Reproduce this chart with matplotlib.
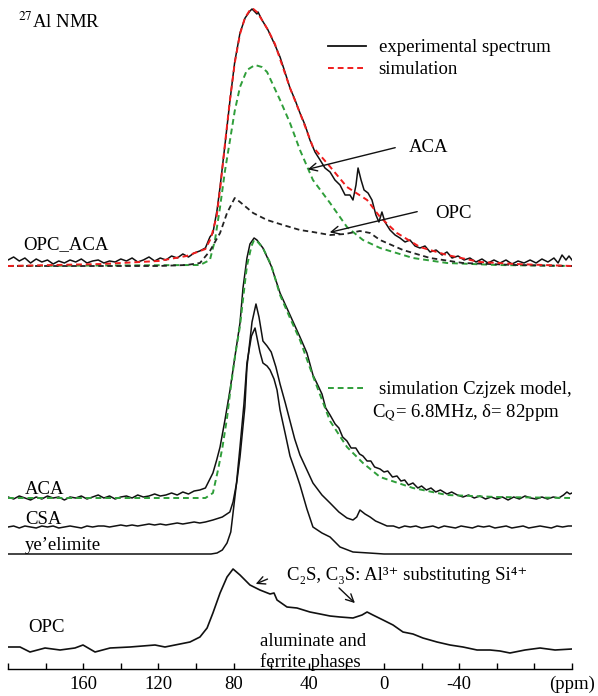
import matplotlib
matplotlib.use('Agg')
import matplotlib.pyplot as plt
from matplotlib.lines import Line2D

plt.rcParams['font.family'] = ['Liberation Serif', 'DejaVu Serif']
plt.rcParams['mathtext.fontset'] = 'stix'

# --- data (ppm, intensity above each trace's baseline) ---
left_ppm = [200, 197, 194, 191, 188, 185, 182, 179, 176, 173, 170, 167, 164, 161, 158, 155, 152, 149,
            146, 143, 140, 137, 134, 131, 128, 125, 122, 119, 116, 113, 110, 107, 104, 101, 98, 95]

# OPC_ACA blend
mix_exp_ppm = left_ppm + [92.6, 91, 88.8, 87.2, 84.6, 81.9, 79.4, 76.6, 73.9, 71.3,
                          70.2, 68.6, 67.6, 67, 64.9, 61.7, 58, 55.3, 52.7, 50,
                          47.3, 44.7, 42, 39.4, 36.7, 34, 31.4, 28.7, 26.1, 23.4,
                          20.7, 18.1, 16.5, 14.9, 13.8, 12.2, 10.6, 8.5, 6.4, 4.3,
                          2.7, 1.1, -0.5, -3.2, -5.9, -8.5, -11.2, -13.8, -16.5, -19.1,
                          -21.8, -24.5, -27.7, -30.9, -33.5, -36.2, -39.4, -42.6, -45.7, -48.9,
                          -52.1, -55.3, -58.5, -61.7, -64.9, -68.1, -71.3, -74.5, -77.7, -80.9,
                          -84, -87.2, -90.4, -92.6, -94.7, -96.8, -98.4, -100]
mix_exp_int = [6, 9, 5, 8, 3, 7, 4, 6, 2, 5, 3, 6, 4, 7, 3, 5, 6, 3, 5, 4, 7, 5, 8, 4, 6, 9, 5, 8, 6, 10,
               8, 12, 9, 13, 15, 18,
               29, 33, 56, 79, 121, 166, 204, 233, 248, 255,
               257, 254, 252, 254, 246, 236, 221, 209, 194, 178,
               166, 153, 141, 126, 114, 106, 98, 94, 86, 81,
               71, 71, 66, 81, 98, 86, 76, 73, 66, 51,
               44, 54, 44, 36, 31, 28, 24, 26, 20, 18,
               20, 14, 16, 11, 14, 8, 10, 6, 8, 4,
               7, 3, 6, 3, 6, 2, 5, 3, 6, 3,
               7, 4, 8, 3, 11, 6, 10, 6]

mix_sim_ppm = [200, 150, 120, 105, 95, 92, 89, 87, 84.6, 82, 79.4, 76.6, 74, 71.3, 69.5, 67.6, 64.9,
               61.7, 58, 55.3, 50, 44.7, 37.8, 29, 19.7, 9, 2.1, -6.9, -19.1, -33.5, -51, -70, -100]
mix_sim_int = [0, 2, 5, 10, 17, 28, 50, 80, 122, 165, 203, 232, 248, 256, 257, 254, 246,
               236, 222, 207, 178, 153, 119, 100, 79, 66, 49, 33, 19, 11, 4, 2, 0]

aca_part_ppm = [200, 97.9, 92.6, 89.9, 87.2, 84.6, 81.9, 79.4, 76.6, 72.9, 68.6, 65, 62.2, 55.3, 50,
                44.7, 37.8, 28.7, 19.7, 11.2, 2.1, -15.4, -33.5, -60, -100]
aca_part_int = [0, 1, 6, 26, 59, 95, 126, 155, 179, 196, 201, 199, 194, 166, 143,
                116, 86, 63, 39, 26, 18, 8, 3, 1, 0]

opc_part_ppm = [200, 120, 105, 97.9, 92.6, 87.2, 83.5, 79.4, 76.6, 69.6, 62.2, 53.7, 44.7, 37.8, 28.7,
                20.7, 12.8, 7.4, 2.1, -10.1, -24.5, -42, -70, -100]
opc_part_int = [0, 0, 1, 3, 15, 33, 53, 68, 64, 53, 46, 41, 36, 34, 31,
                32, 35, 33, 26, 16, 8, 3, 1, 0]

# ACA
aca_ppm = left_ppm + [91, 89, 87.2, 84.6, 81.9, 79.4, 76.6, 75, 72.9, 71.3,
                      69.1, 67.6, 64.4, 60, 55.3, 50, 44.7, 41, 37.8, 35.5,
                      33, 31, 28.7, 26, 24, 22, 19.7, 17.5, 15, 13,
                      11.2, 9, 7, 5, 2.1, 0, -2, -4.5, -6.9, -9,
                      -11, -13, -15.4, -18, -20, -22.5, -25, -27.5, -30, -33.5,
                      -36, -39, -42, -45, -48, -51, -54, -57, -60, -63,
                      -66, -69, -72, -75, -78, -81, -84, -87, -90, -93,
                      -95.5, -97.3, -98.8, -100]
aca_int = [1, -1, 2, 0, -2, 1, -1, 2, 0, 1, -2, 1, 0, 2, -1, 1, 3, 0, 2, -1,
           1, 2, 0, 3, 1, 2, 4, 2, 3, 5, 3, 6, 4, 7, 8, 10,
           25, 38, 51, 78, 108, 140, 175, 210, 240, 254,
           260, 258, 250, 232, 205, 183, 161, 145, 123, 114,
           104, 90, 83, 74, 70, 61, 57, 50, 50, 44,
           42, 37, 37, 31, 29, 26, 27, 21, 22, 17,
           18, 13, 15, 10, 12, 8, 10, 6, 8, 4,
           6, 3, 1, 3, 0, 2, -1, 1, -1, 1,
           -2, 1, -1, 2, 0, -1, 1, -1, 1, 0,
           3, 6, 4, 5]

czjzek_ppm = [200, 95, 91, 88.3, 86, 83.5, 81.9, 79.4, 76.6, 74, 72.9, 70.5, 69.1, 67.6, 64.4,
              60, 55.3, 50, 44.7, 37.8, 28.7, 19.7, 11.2, 2.1, -15.4, -33.5, -60, -100]
czjzek_int = [0, 0, 5, 28, 50, 80, 105, 140, 172, 215, 232, 252, 258, 257, 250,
              233, 203, 180, 158, 122, 77, 51, 35, 21, 10, 3, 1, 0]

# CSA
csa_ppm = left_ppm + [91, 86, 82, 80.3, 78.3, 76.6, 74, 72.9, 70.2, 68.1,
                      66.5, 64.4, 62.2, 60, 57.5, 55.3, 52.5, 50, 47.5, 44.7,
                      41, 37.8, 33, 28.7, 24, 19.7, 16.5, 14.5, 12.8, 10.1,
                      7.4, 4.5, 2, -1.6, -5, -8, -11, -14, -17, -20,
                      -23, -26, -29, -32, -35, -38, -41, -44, -47, -50, -53, -56, -59, -62,
                      -65, -68, -71, -74, -77, -80, -83, -86, -89, -92, -95, -98, -100]
csa_int = [0, 1, -1, 1, 0, -1, 1, 0, 1, -1, 0, 1, 0, -1, 1, 0, 1, 1, 0, 1,
           2, 1, 2, 1, 2, 3, 2, 3, 2, 3, 4, 3, 4, 5, 4, 5,
           7, 10, 15, 25, 45, 70, 120, 160, 205, 223,
           210, 186, 181, 175, 160, 143, 124, 106, 88, 72,
           57, 44, 32, 24, 15, 9, 7, 10, 17, 13,
           10, 6, 4, 1, 1, -1, 1, 0, 1, -1,
           0, 1, -1, 1, 0, -1, 1, 0, -1, 1, 0, 1, -1, 0,
           1, -1, 0, 1, -1, 0, 1, 0, -1, 1, 0, 1, 1]

# ye'elimite
ye_ppm = [200, 150, 120, 100, 92, 88.8, 86, 83.5, 81.5, 80.3, 78.5, 76.6, 74.5, 72.9, 70.5,
          68.6, 66, 64.4, 62.2, 60.6, 58.5, 56.9, 55.3, 52.5, 50, 47, 44.7, 41, 37.8, 33,
          28.7, 23.4, 16.5, 8, 0, -30, -60, -100]
ye_int = [0, 0, 0, 0, 0, 1, 4, 11, 22, 41, 70, 107, 150, 191, 218,
          226, 202, 191, 188, 184, 175, 164, 144, 120, 98, 82, 69, 45, 27, 21,
          17, 7, 2, 1, 0, 0, 0, 0]

# OPC
opc_ppm = [200, 193.6, 188.3, 180.3, 172.3, 164.4, 160.1, 153.7, 145.7, 135.1,
           121.8, 116.5, 108.5, 103.2, 97.9, 94.1, 91, 87.2, 83.5, 80.3,
           76.6, 71.3, 66, 60.6, 58.5, 56.9, 51.6, 46.3, 39.4, 34,
           28.7, 23.4, 16.5, 11.7, 9, 5.9, 0.5, -4.8, -10.1, -15.4,
           -20.7, -28.2, -35.1, -42, -49.5, -56.4, -61.7, -67, -75, -83, -91, -100]
opc_int = [1, 1, -4, 0, -2, 0, 3, -4, 0, 1,
           3, 1, 4, 6, 11, 20, 35, 55, 71, 79,
           73, 63, 58, 54, 55, 48, 41, 40, 36, 34,
           32, 31, 30, 33, 36, 33, 28, 23, 16, 14,
           10, 6, 3, 1, -2, -2, -3, -5, -2, 0, -2, -1]

# baselines of the stacked traces
base = {'OPC_ACA': 404, 'ACA': 172, 'CSA': 143, 'ye': 116, 'OPC': 22}

RED = '#f01d1d'
GREEN = '#2f9e3a'
DASH = (0, (3, 2))

fig = plt.figure(figsize=(5.98, 6.96), dpi=100)
ax = fig.add_axes([8 / 598, 27 / 696, 564 / 598, 669 / 696])
ax.set_xlim(200, -100)
ax.set_ylim(1, 670)


def shift(vals, key):
    return [base[key] + v for v in vals]


ax.plot(mix_exp_ppm, shift(mix_exp_int, 'OPC_ACA'), color='#111111', lw=1.1)
ax.plot(aca_part_ppm, shift(aca_part_int, 'OPC_ACA'), color=GREEN, lw=1.4, ls=DASH)
ax.plot(opc_part_ppm, shift(opc_part_int, 'OPC_ACA'), color='#222222', lw=1.3, ls=DASH)
ax.plot(mix_sim_ppm, shift(mix_sim_int, 'OPC_ACA'), color=RED, lw=1.4, ls=DASH)

ax.plot(aca_ppm, shift(aca_int, 'ACA'), color='#111111', lw=1.1)
ax.plot(czjzek_ppm, shift(czjzek_int, 'ACA'), color=GREEN, lw=1.4, ls=DASH)
ax.plot(csa_ppm, shift(csa_int, 'CSA'), color='#111111', lw=1.1)
ax.plot(ye_ppm, shift(ye_int, 'ye'), color='#111111', lw=1.1)
ax.plot(opc_ppm, shift(opc_int, 'OPC'), color='#111111', lw=1.2)

# axis styling
for s in ['left', 'right', 'top']:
    ax.spines[s].set_visible(False)
ax.spines['bottom'].set_linewidth(1.0)
ax.set_yticks([])
ticks = list(range(200, -101, -20))
labels = {160: '160', 120: '120', 80: '80', 40: '40', 0: '0', -40: '-40', -100: '(ppm)'}
ax.set_xticks(ticks)
ax.set_xticklabels([labels.get(t, '') for t in ticks])
ax.tick_params(axis='x', direction='in', length=4, width=1, pad=5, labelsize=13.5)

fs = 13.5
# trace labels
ax.text(194.7, 648, '$^{27}$Al NMR', fontsize=fs, va='center')
ax.text(192, 425, 'OPC_ACA', fontsize=fs, va='center')
ax.text(191, 181, 'ACA', fontsize=fs, va='center')
ax.text(191, 151, 'CSA', fontsize=fs, va='center')
ax.text(191, 125, 'ye\u2019elimite', fontsize=fs, va='center')
ax.text(189.4, 43, 'OPC', fontsize=fs, va='center')

# legends
h1 = [Line2D([], [], color='#111111', lw=1.3), Line2D([], [], color=RED, lw=1.4, ls=DASH)]
leg1 = ax.legend(h1, ['experimental spectrum', 'simulation'], loc='upper left',
                 bbox_to_anchor=(328 / 598, 1 - 39 / 696), bbox_transform=fig.transFigure,
                 frameon=False, fontsize=fs, handlelength=2.0, handletextpad=0.7,
                 borderpad=0, borderaxespad=0, labelspacing=0.27)
ax.add_artist(leg1)
h2 = [Line2D([], [], color=GREEN, lw=1.4, ls=DASH)]
ax.legend(h2, ['simulation Czjzek model,'], loc='upper left',
          bbox_to_anchor=(328 / 598, 1 - 381 / 696), bbox_transform=fig.transFigure,
          frameon=False, fontsize=fs, handlelength=2.0, handletextpad=0.7,
          borderpad=0, borderaxespad=0)
ax.text(6.4, 257, 'C$_\\mathrm{Q}$= 6.8MHz, \u03b4= 82ppm', fontsize=fs, va='center')

# annotations
arrow = dict(arrowstyle='->', color='#111111', lw=1.0, mutation_scale=14)
ax.annotate('', xy=(42.0, 500), xytext=(-7.4, 523), arrowprops=arrow)
ax.text(-13.3, 523, 'ACA', fontsize=fs, va='center')
ax.annotate('', xy=(30.3, 437), xytext=(-19.1, 459), arrowprops=arrow)
ax.text(-27.1, 457, 'OPC', fontsize=fs, va='center')

ax.text(51.6, 95, 'C\u2082S, C\u2083S: Al\u00b3\u207a substituting Si\u2074\u207a', fontsize=fs, va='center')
ax.annotate('', xy=(69.6, 85), xytext=(60.6, 92), arrowprops=arrow)
ax.annotate('', xy=(14.4, 65), xytext=(25, 84), arrowprops=arrow)
ax.text(66, 28, 'aluminate and', fontsize=fs, va='center')
ax.text(66, 8, 'ferrite phases', fontsize=fs, va='center')

fig.savefig('out.png', dpi=100)
